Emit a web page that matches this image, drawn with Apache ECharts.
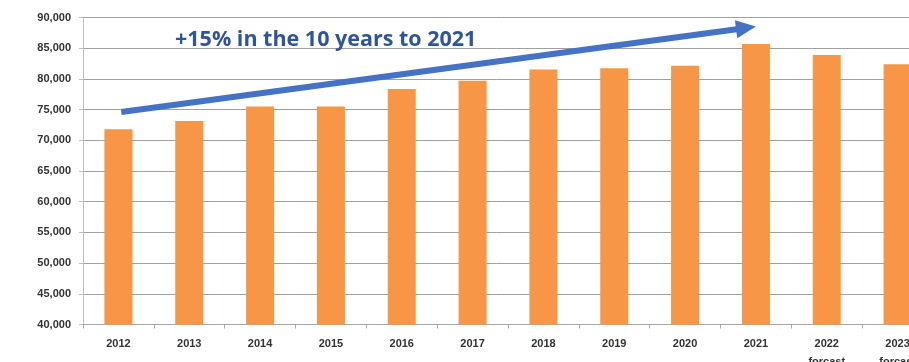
<!DOCTYPE html>
<html>
<head>
<meta charset="utf-8">
<script src="https://cdn.jsdelivr.net/npm/echarts@6/dist/echarts.min.js"></script>
<style>
  html, body { margin: 0; padding: 0; background: #ffffff; overflow: hidden; }
  #chart { width: 909px; height: 362px; }
</style>
</head>
<body>
<div id="chart"></div>
<script>
// Annual totals, 2012–2021 actual, 2022–2023 forecast
const categories = ['2012', '2013', '2014', '2015', '2016', '2017', '2018', '2019', '2020', '2021', '2022\nforcast', '2023\nforcast'];
const totals = [71800, 73150, 75500, 75500, 78350, 79700, 81550, 81750, 82150, 85700, 83900, 82400];

// Value axis ticks
const yTicks = [40000, 45000, 50000, 55000, 60000, 65000, 70000, 75000, 80000, 85000, 90000];

// Trend arrow endpoints in data space: [category position, value]
const trendStart = [0.04, 74600];
const trendEnd = [8.86, 88300];
const trendText = '+15% in the 10 years to 2021';

const chart = echarts.init(document.getElementById('chart'), null, { renderer: 'canvas' });

const labelFont = '"Liberation Sans", Arial, sans-serif';

chart.setOption({
  animation: false,
  backgroundColor: '#ffffff',
  title: {
    text: trendText,
    left: 175,
    top: 29,
    padding: 0,
    textStyle: {
      fontFamily: '"Open Sans", Lato, sans-serif',
      fontWeight: 'bold',
      fontSize: 21.5,
      color: '#2F5597'
    }
  },
  grid: {
    left: 83,
    top: 17.5,
    width: 850,
    height: 307,
    outerBoundsMode: 'none',
    containLabel: false
  },
  xAxis: [
    {
      type: 'category',
      data: categories,
      boundaryGap: true,
      axisLine: { show: true, lineStyle: { color: '#A6A6A6', width: 1 } },
      axisTick: { show: true, inside: false, length: 4, alignWithLabel: false, lineStyle: { color: '#A6A6A6' } },
      axisLabel: {
        interval: 0,
        margin: 10,
        fontFamily: labelFont,
        fontWeight: 'bold',
        fontSize: 11,
        color: '#333333',
        lineHeight: 18
      },
      splitLine: { show: false }
    },
    {
      // helper axis spanning the same band so annotations can be placed between categories
      type: 'value',
      min: -0.5,
      max: 11.5,
      show: false
    }
  ],
  yAxis: {
    type: 'value',
    min: yTicks[0],
    max: yTicks[yTicks.length - 1],
    interval: yTicks[1] - yTicks[0],
    axisLine: { show: true, onZero: false, lineStyle: { color: '#BFBFBF', width: 1 } },
    axisTick: { show: true, inside: false, length: 4, lineStyle: { color: '#BFBFBF' } },
    axisLabel: {
      margin: 12,
      fontFamily: labelFont,
      fontWeight: 'bold',
      fontSize: 11,
      color: '#333333',
      formatter: v => v.toLocaleString('en-US')
    },
    splitLine: { show: true, lineStyle: { color: '#A0A0A0', width: 1 } }
  },
  series: [
    {
      type: 'bar',
      data: totals,
      xAxisIndex: 0,
      barWidth: 28,
      itemStyle: { color: '#F79646' },
      z: 2
    },
    {
      type: 'line',
      xAxisIndex: 1,
      data: [],
      silent: true,
      z: 5,
      markLine: {
        silent: true,
        animation: false,
        symbol: ['none', 'triangle'],
        symbolSize: [18, 20],
        label: { show: false },
        lineStyle: { color: '#4472C4', width: 6, type: 'solid' },
        emphasis: { disabled: true },
        data: [[{ coord: trendStart }, { coord: trendEnd }]]
      }
    }
  ]
});
</script>
</body>
</html>
